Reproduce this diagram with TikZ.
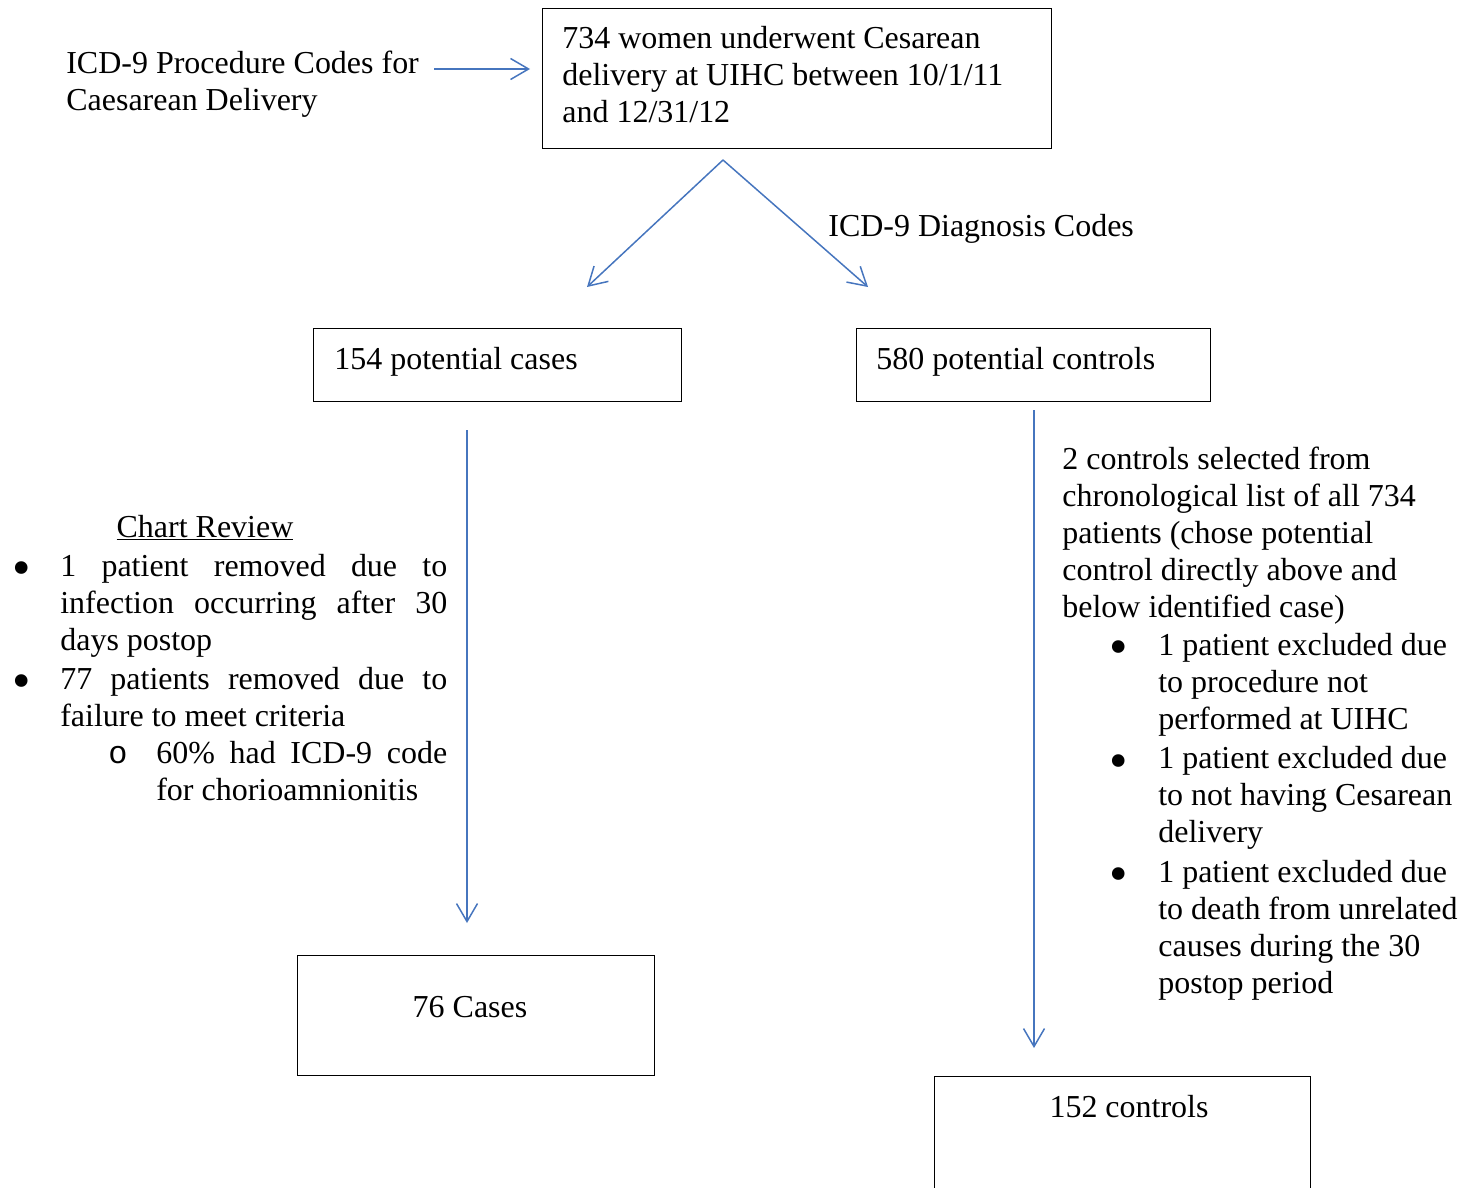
\documentclass[tikz,border=0pt]{standalone}
\usepackage{fontspec}
\usepackage{graphicx}
\setmainfont{Liberation Serif}
\setmonofont{Liberation Mono}
\usetikzlibrary{arrows.meta}
\definecolor{flowblue}{RGB}{70,117,190}
\newcommand{\bigbul}{\raisebox{-0.3em}{\scalebox{1.65}{\textbullet}}}

\begin{document}
\begin{tikzpicture}[x=0.02cm, y=-0.02cm,
    font=\fontsize{18.2}{21.05}\selectfont]

      \tikzset{box/.style={draw, line width=0.7pt, inner sep=0pt, anchor=north west},
               txt/.style={inner sep=0pt, align=left, anchor=base west},
               flow/.style={draw=flowblue, line width=0.85pt, -{Straight Barb[length=0.36cm, width=0.42cm]}}}
      \clip (0,0) rectangle (1466,1187);
%% Boxes
      	\node[box, minimum width=10.18cm, minimum height=2.8cm] (total) at (542,8) {};
      	\node[box, minimum width=7.36cm, minimum height=1.46cm] (cases) at (313,328) {};
      	\node[box, minimum width=7.08cm, minimum height=1.46cm] (ctrls) at (856,328) {};
      	\node[box, minimum width=7.14cm, minimum height=2.4cm] (fcases) at (297,955) {};
      	\node[box, minimum width=7.52cm, minimum height=2.6cm] (fctrls) at (934,1076) {};
%% Texts (multi-line nodes sit on the baseline of their last line)
      	\node[txt] (totaltxt) at (562,122) {734 women underwent Cesarean\\delivery at UIHC between 10/1/11\\and 12/31/12};
      	\node[txt] (proc) at (66,110) {ICD-9 Procedure Codes for\\Caesarean Delivery};
      	\node[txt] (diag) at (828,236) {ICD-9 Diagnosis Codes};
      	\node[txt] (casestxt) at (334,369) {154 potential cases};
      	\node[txt] (ctrlstxt) at (876,369) {580 potential controls};
      	\node[txt, anchor=base] (fcasestxt) at (470,1017) {76 Cases};
      	\node[txt, anchor=base] (fctrlstxt) at (1129,1117) {152 controls};
      	\node[txt, anchor=base] (review) at (205,537) {\underline{Chart Review}};
      	\node[txt] (crlist) at (12,800) {%
      	  \makebox[0.96cm][l]{\bigbul}\makebox[7.74cm][s]{1 patient removed due to}\\
      	  \hspace*{0.96cm}\makebox[7.74cm][s]{infection occurring after 30}\\
      	  \hspace*{0.96cm}days postop\\[0.04cm]
      	  \makebox[0.96cm][l]{\bigbul}\makebox[7.74cm][s]{77 patients removed due to}\\
      	  \hspace*{0.96cm}failure to meet criteria\\
      	  \hspace*{1.92cm}\makebox[0.96cm][l]{\texttt{o}}\makebox[5.82cm][s]{60\% had ICD-9 code}\\
      	  \hspace*{2.88cm}for chorioamnionitis};
      	\node[txt] (select) at (1062,617) {2 controls selected from\\chronological list of all 734\\patients (chose potential\\control directly above and\\below identified case)};
      	\node[txt] (exlist) at (1109,993) {%
      	  \makebox[0.98cm][l]{\bigbul}1 patient excluded due\\
      	  \hspace*{0.98cm}to procedure not\\
      	  \hspace*{0.98cm}performed at UIHC\\[0.05cm]
      	  \makebox[0.98cm][l]{\bigbul}1 patient excluded due\\
      	  \hspace*{0.98cm}to not having Cesarean\\
      	  \hspace*{0.98cm}delivery\\[0.05cm]
      	  \makebox[0.98cm][l]{\bigbul}1 patient excluded due\\
      	  \hspace*{0.98cm}to death from unrelated\\
      	  \hspace*{0.98cm}causes during the 30\\
      	  \hspace*{0.98cm}postop period};
%Arrow ends
      	\coordinate (procout) at (434,69);
      	\coordinate (procin) at (530,69);
      	\coordinate (fork) at (723,160);
      	\coordinate (casein) at (587,287);
      	\coordinate (ctrlin) at (868,287);
      	\coordinate (caseout) at (467,430);
      	\coordinate (fcasein) at (467,923);
      	\coordinate (ctrlout) at (1034,410);
      	\coordinate (fctrlin) at (1034,1048);
%Arrows
		\path [flow] (procout) -- (procin);
		\path [flow] (fork) -- (casein);
		\path [flow] (fork) -- (ctrlin);
		\path [flow] (caseout) -- (fcasein);
		\path [flow] (ctrlout) -- (fctrlin);

	\end{tikzpicture}
\end{document}
